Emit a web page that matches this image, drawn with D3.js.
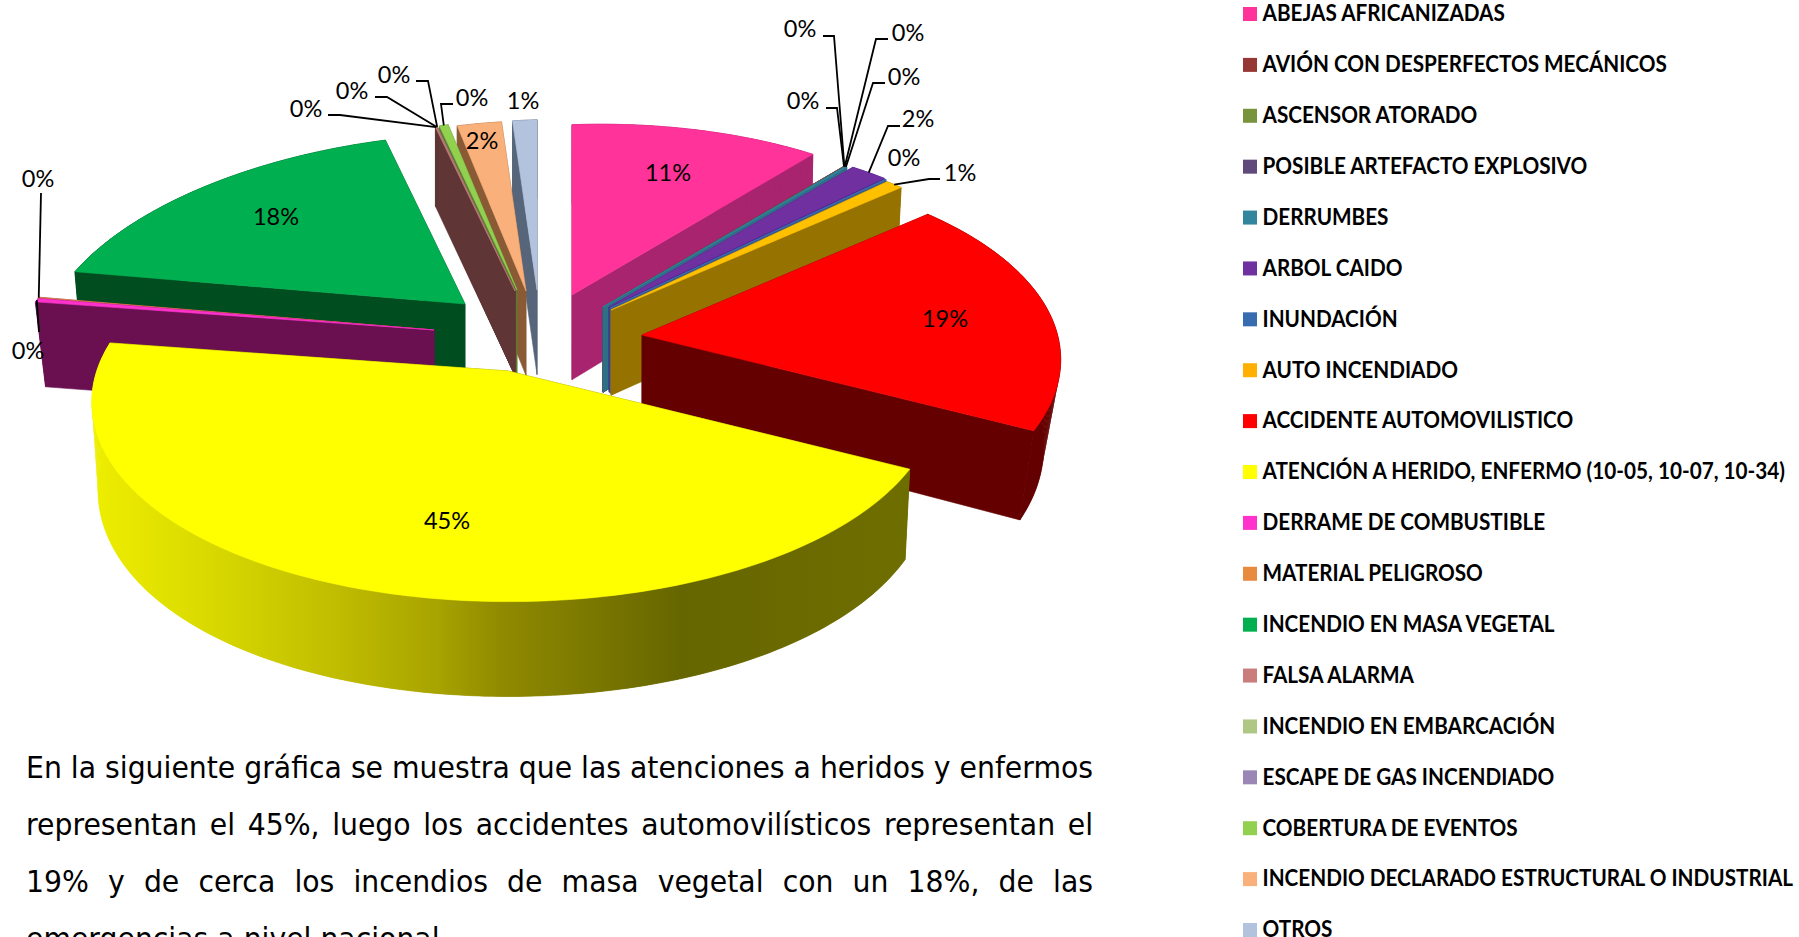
<!DOCTYPE html>
<html><head><meta charset="utf-8">
<style>html,body{margin:0;padding:0;background:#fff;overflow:hidden}svg{display:block}</style>
<script src="https://cdn.jsdelivr.net/npm/d3@7/dist/d3.min.js"></script>
</head><body><svg id="c" width="1799" height="937"></svg>
<script>
// ---------- data ----------
const categories = ["ABEJAS AFRICANIZADAS","AVIÓN CON DESPERFECTOS MECÁNICOS","ASCENSOR ATORADO","POSIBLE ARTEFACTO EXPLOSIVO","DERRUMBES","ARBOL CAIDO","INUNDACIÓN","AUTO INCENDIADO","ACCIDENTE AUTOMOVILISTICO","ATENCIÓN A HERIDO, ENFERMO (10-05, 10-07, 10-34)","DERRAME DE COMBUSTIBLE","MATERIAL PELIGROSO","INCENDIO EN MASA VEGETAL","FALSA ALARMA","INCENDIO EN EMBARCACIÓN","ESCAPE DE GAS INCENDIADO","COBERTURA DE EVENTOS","INCENDIO DECLARADO ESTRUCTURAL O INDUSTRIAL","OTROS"];
const values = [11.35,0.02,0.02,0.02,0.1,1.7,0.05,0.8,19.45,44.8,0.3,0.1,17.65,0.05,0.02,0.02,0.4,2.0,1.1];
const paragraph = ["En la siguiente gráfica se muestra que las atenciones a heridos y enfermos","representan el 45%, luego los accidentes automovilísticos representan el","19% y de cerca los incendios de masa vegetal con un 18%, de las","emergencias a nivel nacional."];

// ---------- styles ----------
const topColors = ["#ff3399","#953735","#77933c","#604a7b","#31859c","#7030a0","#3f6fb0","#ffc000","#ff0000","#ffff00","#ff33cc","#e98b3e","#00b050","#c97d7c","#afc784","#9a87b5","#92d050","#fab07a","#b3c2dd"];
const sideColors = ["#a8246f","#5f3535","#5f3535","#4a3a62","#2f6f85","#3f2390","#3a5a90","#967300","#640000","#6c6c00","#6a1050","#6a1050","#004d20","#5f3535","#5f3535","#5f3535","#5f7a30","#8a5a35","#56657a"];
const legendColors = ["#ff3399","#953735","#77933c","#604a7b","#31859c","#7030a0","#376cb0","#ffb000","#ff0000","#ffff00","#ff33cc","#e98b3e","#00b050","#c97d7c","#afc784","#9a87b5","#92d050","#fab07a","#b3c2dd"];
const yellowSideStops = [[0,"#eeee00"],[0.15,"#d8d800"],[0.3,"#c0bc00"],[0.42,"#a8a400"],[0.5,"#908a00"],[0.72,"#666600"],[1,"#6e6e00"]];

// ---------- layout ----------
const W = 1799, H = 937;
const pieCenter = [540,300];
// explosion of each slice from the pie centre, in px
const explode = [[32,-5],[63,7],[63,7],[63,7],[63,7],[69,7],[70,8],[71,10],[102,35],[-32,71],[-106,30],[-106,30],[-75,4],[-25,-9],[-25,-9],[-25,-9],[-23,-10],[-14,-9],[-3,-10]];
const sliceScale = categories.map((c,i) => i===8 ? 0.985 : i===9 ? 1.01 : (i===10||i===11) ? 1.012 : 1);
// painter's order, back to front
const drawOrder = [12,11,10,18,17,16,15,14,13,0,1,2,3,4,5,6,7,8,9];
// perspective of the disc
const disc = {R:418, K:195, gx:0.18, gy:0.145, tilt:-12, skew:45, skewFrom:0.21};
const thickness = {base:75, perY:0.033, converge:12, vanishX:516, reach:500};
// label centre positions and leader elbows [text-end, bend] (null: no leader)
const labelPos = [[668,172],[803,100],[800,28],[908,32],[904,76],[918,118],[904,157],[960,172],[945,318],[447,520],[28,350],[38,178],[276,216],[306,108],[352,90],[394,74],[472,97],[482,140],[523,100]];
const elbows = [null,[[826,108],[837,108]],[[823,36],[834,36]],[[888,39],[876,39]],[[885,83],[873,83]],[[900,126],[888,126]],null,[[940,179],[929,179]],null,null,[[39,332],[39,332]],[[41,193],[41,193]],null,[[328,115],[340,115]],[[375,97],[387,97]],[[416,81],[428,81]],[[453,104],[441,104]],null,null];

const svg = d3.select("#c");
const defs = svg.append("defs");

const pie = d3.pie().sort(null).value(d => d);
const arcs = pie(values);
const line = d3.line();

function radial(theta){
  const u = Math.sin(theta), v = Math.cos(theta);
  const w = Math.max(0, disc.skewFrom - v)/(1 + disc.skewFrom);
  return [disc.R*u/(1+disc.gx*v) + disc.skew*w*(1-u)/2, -disc.K*v/(1+disc.gy*v) + disc.tilt*u];
}
function apexOf(i){ return [pieCenter[0]+explode[i][0], pieCenter[1]+explode[i][1]]; }
function rim(i,theta){
  const a = apexOf(i), r = radial(theta), s = sliceScale[i];
  return [a[0]+s*r[0], a[1]+s*r[1]];
}
function down(p){
  const dx = p[0]-thickness.vanishX;
  return [p[0]-Math.sign(dx)*thickness.converge*Math.pow(Math.abs(dx)/thickness.reach,4), p[1]+thickness.base+thickness.perY*p[1]];
}
function arcSamples(i){
  const a = arcs[i], n = Math.max(2, Math.ceil((a.endAngle-a.startAngle)/(Math.PI/180)));
  return d3.range(n+1).map(k => rim(i, a.startAngle+(a.endAngle-a.startAngle)*k/n));
}

// gradient for the big slice's outer wall
const yellowIdx = 9;
const ySamples = arcSamples(yellowIdx);
const grad = defs.append("linearGradient").attr("id","wallGrad").attr("gradientUnits","userSpaceOnUse")
  .attr("x1",d3.min(ySamples,d=>d[0])).attr("x2",d3.max(ySamples,d=>d[0])).attr("y1",0).attr("y2",0);
grad.selectAll("stop").data(yellowSideStops).join("stop").attr("offset",d=>d[0]).attr("stop-color",d=>d[1]);

const pieG = svg.append("g");
drawOrder.forEach(i => {
  const g = pieG.append("g");
  const rimPts = arcSamples(i), apex = apexOf(i);
  const first = rimPts[0], last = rimPts[rimPts.length-1];
  const side = sideColors[i];
  const face = (pts,fill) => g.append("path").attr("d",line(pts)+"Z").attr("fill",fill).attr("stroke",fill).attr("stroke-width",0.6).attr("stroke-linejoin","round");
  face([apex,first,down(first),down(apex)],side);
  face([apex,last,down(last),down(apex)],side);
  // outer wall: one band, plus the swept pieces that close the silhouette
  const wall = i===yellowIdx ? "url(#wallGrad)" : side;
  face(rimPts.concat(rimPts.map(down).reverse()),wall);
  d3.pairs(rimPts).forEach(([p,q]) => g.append("path").attr("d",line([p,q,down(q),down(p)])+"Z").attr("fill",wall));
  face([apex].concat(rimPts),topColors[i]);
});

// data labels and leaders
const labelFont = "Lato, 'Noto Sans', sans-serif";
const lab = svg.append("g");
arcs.forEach((a,i) => {
  if (elbows[i]) {
    const mid = rim(i,(a.startAngle+a.endAngle)/2);
    lab.append("path").attr("d",line([elbows[i][0],elbows[i][1],mid])).attr("fill","none").attr("stroke","#000").attr("stroke-width",1.8);
  }
  lab.append("text").attr("transform",`translate(${labelPos[i][0]},${labelPos[i][1]}) scale(0.98,1)`)
    .attr("text-anchor","middle").attr("dominant-baseline","central")
    .attr("font-family",labelFont).attr("font-size",24).attr("fill","#000")
    .text(Math.round(values[i])+"%");
});

// legend
const legendY = d3.scaleLinear().domain([0,categories.length-1]).range([14,930]);
const leg = svg.append("g");
const legX = 1243, legS = 14, legTx = 1262.5, legLongest = 531;
const legItems = leg.selectAll("g").data(categories).join("g").attr("transform",(d,i)=>`translate(0,${legendY(i)})`);
legItems.append("rect").attr("x",legX).attr("y",-legS/2).attr("width",legS).attr("height",legS).attr("fill",(d,i)=>legendColors[i]);
const legTexts = legItems.append("text").attr("font-family",labelFont).attr("font-weight",700).attr("font-size",22.5).attr("fill","#000").attr("dominant-baseline","central").text(d=>d);
const legMax = d3.max(legTexts.nodes(),n=>n.getComputedTextLength());
legTexts.attr("transform",`translate(${legTx},-1) scale(${legLongest/legMax},1)`);

// paragraph
const paraX = 26, paraW = 1067, paraBase = d3.scaleLinear().domain([0,3]).range([778,949]);
const para = svg.append("g");
const pt = para.selectAll("text").data(paragraph).join("text").attr("font-family","'DejaVu Sans',sans-serif").attr("font-size",30).attr("fill","#000").text(d=>d);
const sx = paraW/pt.nodes()[0].getComputedTextLength();
pt.attr("transform",(d,i)=>`translate(${paraX},${paraBase(i)}) scale(${sx},1)`);
pt.each(function(d,i){
  if (i===paragraph.length-1) return;
  const spaces = d.split(" ").length-1;
  d3.select(this).attr("word-spacing",(paraW/sx-this.getComputedTextLength())/spaces);
});
</script></body></html>
